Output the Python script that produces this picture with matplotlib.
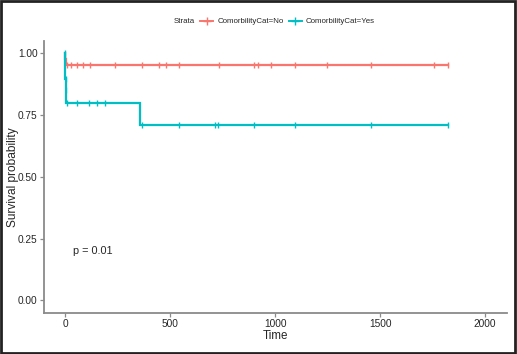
import numpy as np
import matplotlib
matplotlib.use("Agg")
import matplotlib.pyplot as plt
from matplotlib.lines import Line2D
from matplotlib.patches import Rectangle

plt.rcParams['font.family'] = ['Liberation Sans', 'DejaVu Sans']

# --------------------------
# data
# --------------------------
strata = ["ComorbilityCat=No", "ComorbilityCat=Yes"]
colors = ["#F8766D", "#00BFC4"]

# step curves: event times and survival after each step
no_time = [0, 2, 5]
no_surv = [1.0, 0.977, 0.955]
no_censor = [2, 8, 28, 57, 86, 119, 238, 366, 447, 480, 542, 732, 898, 917,
             979, 1093, 1245, 1458, 1758, 1825]

yes_time = [0, 2, 4, 7, 358]
yes_surv = [1.0, 0.896, 0.85, 0.80, 0.711]
yes_censor = [1, 3, 5, 8, 57, 114, 152, 190, 365, 542, 713, 727, 898, 1093,
              1458, 1825]

end_time = 1825
p_text = "p = 0.01"

x_ticks = [0, 500, 1000, 1500, 2000]
y_ticks = [0.00, 0.25, 0.50, 0.75, 1.00]


def surv_at(t_steps, s_steps, t):
    idx = np.searchsorted(t_steps, t, side="right") - 1
    return np.asarray(s_steps)[idx]


fig = plt.figure(figsize=(5.17, 3.54), dpi=100)
ax = fig.add_axes([0.085, 0.117, 0.896, 0.767])

axis_col = "#8a8a8a"
txt_col = "#262626"

curves = [(no_time, no_surv, no_censor), (yes_time, yes_surv, yes_censor)]
for (t, s, c), col in zip(curves, colors):
    tt = list(t) + [end_time]
    ss = list(s) + [s[-1]]
    ax.step(tt, ss, where="post", color=col, lw=1.6, solid_joinstyle="miter")
    ax.plot(c, surv_at(t, s, c), ls="none", marker="|", ms=5, mew=1.0,
            color=col)

ax.text(40, 0.2, p_text, fontsize=7.8, color=txt_col, va="center", ha="left")

ax.set_xlim(-100, 2105)
ax.set_ylim(-0.05, 1.05)
ax.set_xticks(x_ticks)
ax.set_yticks(y_ticks)
ax.set_yticklabels([f"{v:.2f}" for v in y_ticks])
ax.tick_params(labelsize=7.3, colors=axis_col, labelcolor=txt_col,
               length=3, width=0.9, pad=1.5)
for side in ["top", "right"]:
    ax.spines[side].set_visible(False)
for side in ["left", "bottom"]:
    ax.spines[side].set_color(axis_col)
    ax.spines[side].set_linewidth(1.3)
ax.set_xlabel("Time", fontsize=8.4, color=txt_col, labelpad=0.5)
ax.set_ylabel("Survival probability", fontsize=8.6, color=txt_col)
ax.yaxis.set_label_coords(-0.054, 0.5)

# legend on top, drawn in figure coords
ly = 0.94
fig.text(0.336, ly, "Strata", fontsize=5.7, color=txt_col, va="center")
hx = [(0.387, 0.412), (0.559, 0.584)]
tx = [0.420, 0.591]
for (x0, x1), x2, col, lab in zip(hx, tx, colors, strata):
    fig.add_artist(Line2D([x0, x1], [ly, ly], color=col, lw=1.4,
                          transform=fig.transFigure))
    fig.add_artist(Line2D([(x0 + x1) / 2], [ly], color=col, marker="+",
                          ms=6, mew=1.0, transform=fig.transFigure))
    fig.text(x2, ly, lab, fontsize=5.7, color=txt_col, va="center")

# dark frame round the whole picture
fig.add_artist(Rectangle((0.002, 0.003), 0.995, 0.994, fill=False,
                         edgecolor="#222222", lw=2.0,
                         transform=fig.transFigure))

fig.savefig("out.png", dpi=100)
